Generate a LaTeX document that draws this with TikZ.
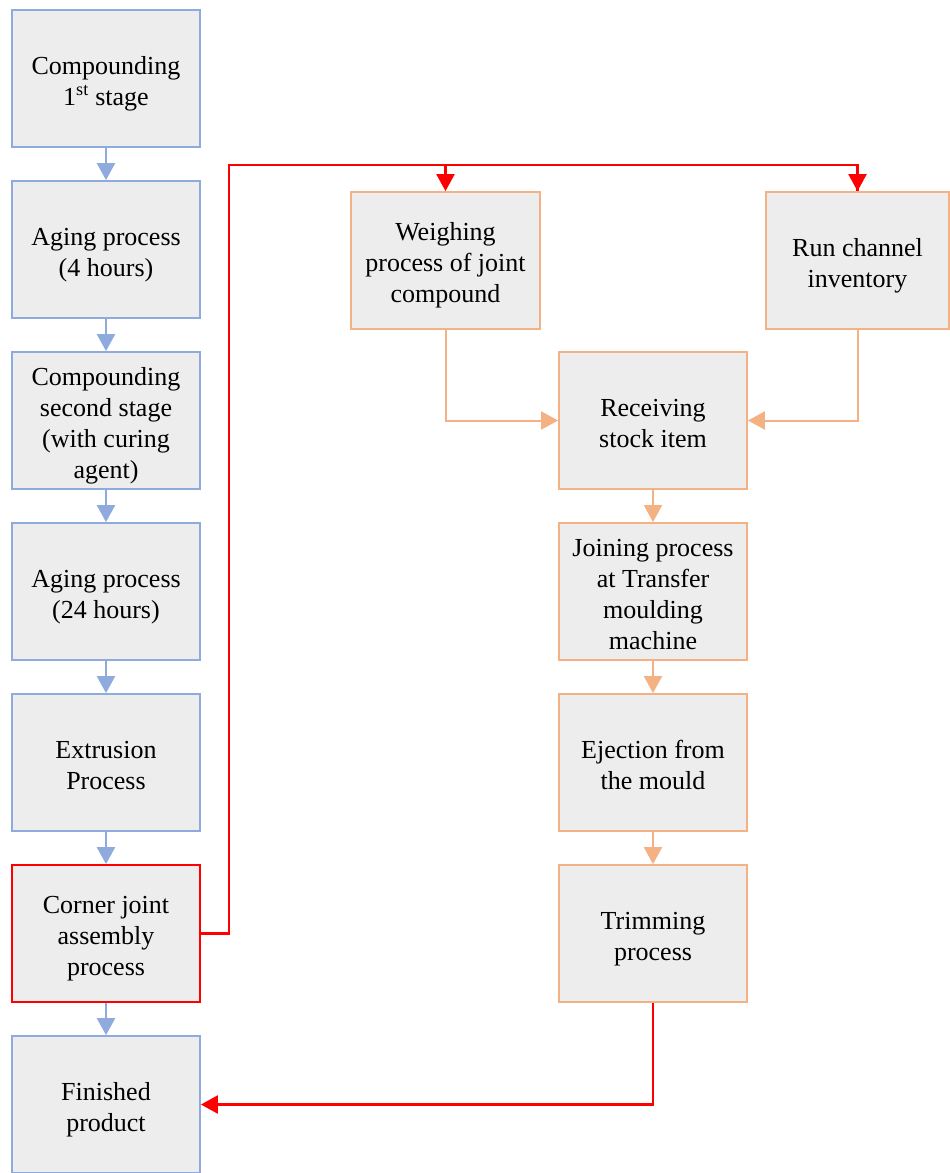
\documentclass[tikz,border=0pt]{standalone}
\usepackage{fontspec}
\setmainfont{Liberation Serif}
\usetikzlibrary{arrows.meta}
\definecolor{boxfill}{HTML}{EDEDED}
\definecolor{bluec}{HTML}{8FAADC}
\definecolor{orangec}{HTML}{F4B183}
\definecolor{redc}{HTML}{FF0000}
\newcommand{\tstart}{\rule{0pt}{29pt}}
\newcommand{\tend}{\rule[-7pt]{0pt}{7pt}}
\tikzset{
  pbox/.style={draw, line width=1.8pt, fill=boxfill, minimum width=188pt, minimum height=137pt,
    inner sep=0pt, align=center,
    font=\fontsize{26}{31}\selectfont},
  bluebox/.style={pbox, draw=bluec},
  orangebox/.style={pbox, draw=orangec},
  redbox/.style={pbox, draw=redc},
  tip/.style={-{Triangle[width=18pt,length=17pt]}},
  bluearrow/.style={tip, draw=bluec, line width=2.4pt},
  orangearrow/.style={tip, draw=orangec, line width=2pt},
  redline/.style={draw=redc, line width=2.4pt},
  redarrow/.style={redline, tip},
}
\begin{document}
\begin{tikzpicture}[x=1pt,y=-1pt]
\useasboundingbox (0,0) rectangle (950,1173);
\node[bluebox] (b1) at (106,78.5) {\tstart Compounding\\1\textsuperscript{st} stage\tend};
\node[bluebox] (b2) at (106,249.5) {\tstart Aging process\\(4 hours)\tend};
\node[bluebox] (b3) at (106,420.5) {\tstart Compounding\\second stage\\(with curing\\agent)\tend};
\node[bluebox] (b4) at (106,591.5) {\tstart Aging process\\(24 hours)\tend};
\node[bluebox] (b5) at (106,762.5) {\tstart Extrusion\\Process\tend};
\node[redbox] (b6) at (106,933.5) {\tstart Corner joint\\assembly\\process\tend};
\node[bluebox] (b7) at (106,1104.5) {\tstart Finished\\product\tend};

\node[orangebox, minimum width=189pt] (w) at (445.5,260.5) {\tstart Weighing\\process of joint\\compound\tend};
\node[orangebox, minimum width=183pt] (rc) at (857.5,260.5) {\tstart Run channel\\inventory\tend};
\node[orangebox] (r1) at (653,420.5) {\tstart Receiving\\stock item\tend};
\node[orangebox] (r2) at (653,591.5) {\tstart Joining process\\at Transfer\\moulding\\machine\tend};
\node[orangebox] (r3) at (653,762.5) {\tstart Ejection from\\the mould\tend};
\node[orangebox] (r4) at (653,933.5) {\tstart Trimming\\process\tend};

\coordinate (top) at (229,165);
\foreach \a/\b in {b1/b2,b2/b3,b3/b4,b4/b5,b5/b6,b6/b7}
  \draw[bluearrow] (\a.south) -- (\b.north);
\foreach \a/\b in {r1/r2,r2/r3,r3/r4}
  \draw[orangearrow] (\a.south) -- (\b.north);

\draw[orangearrow] (w.south) |- (r1.west);
\draw[orangearrow] (rc.south) |- (r1.east);

\draw[redline] (b6.east) -| (top) -| (rc.north);
\draw[redarrow] (rc.north |- top) -| (rc.north);
\draw[redarrow] (w.north |- top) -- (w.north);
\draw[redarrow] (r4.south) |- (b7.east);
\end{tikzpicture}
\end{document}
